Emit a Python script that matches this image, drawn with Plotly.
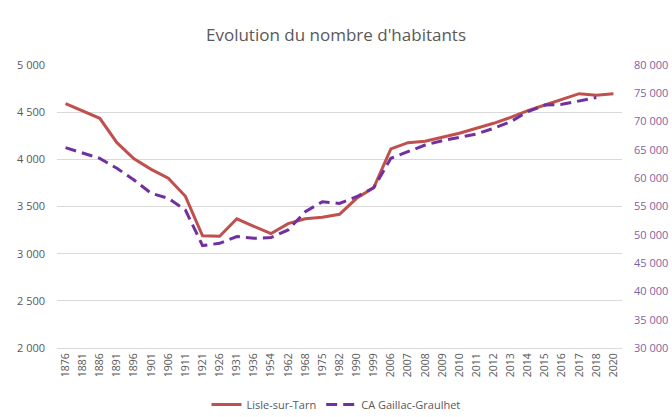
import plotly.graph_objects as go

years = ["1876", "1881", "1886", "1891", "1896", "1901", "1906", "1911", "1921", "1926",
         "1931", "1936", "1954", "1962", "1968", "1975", "1982", "1990", "1999", "2006",
         "2007", "2008", "2009", "2010", "2011", "2012", "2013", "2014", "2015", "2016",
         "2017", "2018", "2020"]

lisle = [4590, 4510, 4435, 4177, 4005, 3894, 3799, 3608, 3190, 3185,
         3370, 3290, 3212, 3318, 3370, 3386, 3417, 3587, 3700, 4110,
         4177, 4191, 4230, 4276, 4329, 4382, 4445, 4516, 4576, 4632,
         4696, 4679, 4696]

gaillac = [65390, 64500, 63510, 61750, 59680, 57330, 56450, 54380, 48100, 48500,
           49700, 49380, 49520, 50850, 54080, 55850, 55550, 56730, 58320, 63510,
           64680, 65860, 66630, 67220, 67810, 68810, 69980, 71750, 72930, 73050,
           73600, 74250, None]

left_ticks = [2000, 2500, 3000, 3500, 4000, 4500, 5000]
right_ticks = [30000, 35000, 40000, 45000, 50000, 55000, 60000, 65000, 70000, 75000, 80000]

fmt = lambda v: f"{v:,}".replace(",", " ")

fig = go.Figure()
fig.add_trace(go.Scatter(
    x=years, y=lisle, name="Lisle-sur-Tarn", mode="lines",
    line=dict(color="#C0504D", width=3), yaxis="y"))
fig.add_trace(go.Scatter(
    x=years, y=gaillac, name="CA Gaillac-Graulhet", mode="lines",
    line=dict(color="#7030A0", width=3, dash="11px,6px"), yaxis="y2",
    connectgaps=False))

fig.update_layout(
    width=672, height=417,
    paper_bgcolor="white", plot_bgcolor="white",
    margin=dict(l=57, r=50, t=65, b=69),
    font=dict(family="Open Sans, Calibri, sans-serif", color="#595959", size=10),
    title=dict(text="Evolution du nombre d'habitants", x=0.5, xanchor="center",
               y=0.915, yanchor="middle",
               font=dict(size=17, color="#595959")),
    xaxis=dict(type="category", range=[-0.5, 32.5], tickangle=-90,
               showgrid=False, showline=True, linecolor="#D9D9D9", linewidth=1,
               ticks="", automargin=False,
               tickfont=dict(size=10.5, color="#595959")),
    yaxis=dict(range=[2000, 5000], tickvals=left_ticks,
               ticktext=[fmt(v) for v in left_ticks],
               showgrid=True, gridcolor="#D9D9D9", gridwidth=1,
               zeroline=False, showline=False, ticks="", automargin=False,
               ticklabelstandoff=11,
               tickfont=dict(size=11, color="#595959")),
    yaxis2=dict(range=[30000, 80000], tickvals=right_ticks,
                ticktext=[fmt(v) for v in right_ticks],
                overlaying="y", side="right", showgrid=False,
                zeroline=False, showline=False, ticks="", automargin=False,
                ticklabelstandoff=11,
                tickfont=dict(size=11, color="#8064A2")),
    legend=dict(orientation="h", x=0.5, xanchor="center", xref="container",
                y=0.03, yanchor="middle", yref="container",
                font=dict(size=11, color="#595959")),
    showlegend=True,
)

fig.write_html("out.html", config={"displayModeBar": False},
               post_script="document.body.style.margin='0';document.body.style.overflow='hidden';")
